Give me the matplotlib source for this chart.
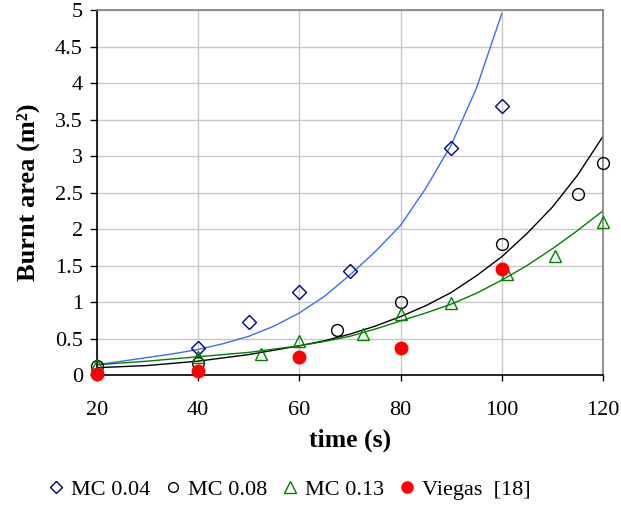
import matplotlib
matplotlib.use("Agg")
import matplotlib.pyplot as plt
from matplotlib.lines import Line2D

plt.rcParams['font.family'] = ['Liberation Serif', 'DejaVu Serif']

# measured points
t_mc004 = [40, 50, 60, 70, 90, 100]
a_mc004 = [0.37, 0.73, 1.14, 1.42, 3.11, 3.68]

t_mc008 = [20, 40, 67.5, 80, 100, 115, 120]
a_mc008 = [0.12, 0.17, 0.61, 1.00, 1.79, 2.48, 2.90]

t_mc013 = [20, 40, 52.5, 60, 72.5, 80, 90, 101, 110.5, 120]
a_mc013 = [0.14, 0.24, 0.29, 0.47, 0.56, 0.84, 0.99, 1.39, 1.63, 2.10]

t_viegas = [20, 40, 60, 80, 100]
a_viegas = [0.02, 0.06, 0.25, 0.37, 1.45]

# fitted curves
t_fit004 = [20, 25, 30, 35, 40, 45, 50, 55, 60, 65, 70, 75, 80, 85, 90, 95, 100]
a_fit004 = [0.14, 0.19, 0.24, 0.29, 0.35, 0.43, 0.53, 0.67, 0.85, 1.08, 1.37, 1.69, 2.05, 2.56, 3.15, 3.93, 4.95]

t_fit008 = [20, 30, 40, 50, 60, 65, 70, 75, 80, 85, 90, 95, 100, 105, 110, 115, 120]
a_fit008 = [0.10, 0.13, 0.19, 0.28, 0.40, 0.47, 0.56, 0.67, 0.80, 0.95, 1.13, 1.36, 1.62, 1.94, 2.30, 2.74, 3.27]

t_fit013 = [20, 30, 40, 50, 60, 65, 70, 75, 80, 85, 90, 95, 100, 105, 110, 115, 120]
a_fit013 = [0.14, 0.19, 0.25, 0.31, 0.40, 0.46, 0.53, 0.63, 0.74, 0.85, 0.97, 1.12, 1.30, 1.50, 1.73, 1.98, 2.25]

x_ticks = [20, 40, 60, 80, 100, 120]
y_ticks = [0, 0.5, 1, 1.5, 2, 2.5, 3, 3.5, 4, 4.5, 5]

fig = plt.figure(figsize=(6.21, 5.05), dpi=100)
ax = fig.add_axes([0.156, 0.2574, 0.815, 0.7228])

ax.plot(t_fit004, a_fit004, color='#3d6bff', lw=1.0, zorder=2)
ax.plot(t_fit008, a_fit008, color='black', lw=1.0, zorder=2)
ax.plot(t_fit013, a_fit013, color='#008000', lw=1.0, zorder=2)

ax.plot(t_mc004, a_mc004, 'D', ms=7, mfc='none', mec='#000080', mew=1.0, zorder=3, clip_on=False)
ax.plot(t_mc008, a_mc008, 'o', ms=8.5, mfc='none', mec='black', mew=1.0, zorder=3, clip_on=False)
ax.plot(t_mc013, a_mc013, '^', ms=9, mfc='none', mec='#008000', mew=1.0, zorder=3, clip_on=False)
ax.plot(t_viegas, a_viegas, 'o', ms=9, color='#ff0000', zorder=4, clip_on=False)

ax.set_xlim(20, 120)
ax.set_ylim(0, 5)
ax.set_xticks(x_ticks)
ax.set_yticks(y_ticks)
ax.set_yticklabels([f"{v:g}" for v in y_ticks])
ax.grid(True, color='#c8c8c8', lw=1.0)
ax.set_axisbelow(True)

for s in ['top', 'right']:
    ax.spines[s].set_color('#808080')
    ax.spines[s].set_linewidth(1.2)
for s in ['left', 'bottom']:
    ax.spines[s].set_color('black')
    ax.spines[s].set_linewidth(1.2)

ax.tick_params(axis='x', direction='out', length=4, width=1, pad=15, labelsize=16)
ax.tick_params(axis='y', direction='out', length=5, width=1, pad=5, labelsize=16)

ax.set_xlabel('time (s)', fontsize=18.5, fontweight='bold', labelpad=6)
ax.set_ylabel('Burnt area (m²)', fontsize=19, fontweight='bold', labelpad=11)

handles = [
    Line2D([], [], ls='none', marker='D', ms=6, mfc='none', mec='#000080'),
    Line2D([], [], ls='none', marker='o', ms=7, mfc='none', mec='black'),
    Line2D([], [], ls='none', marker='^', ms=8, mfc='none', mec='#008000'),
    Line2D([], [], ls='none', marker='o', ms=8, color='#ff0000'),
]
labels = ['MC 0.04', 'MC 0.08', 'MC 0.13', 'Viegas  [18]']
fig.legend(handles, labels, loc='lower center', bbox_to_anchor=(0.465, -0.03),
           ncol=4, frameon=False, fontsize=16, handlelength=0.8,
           handletextpad=0.3, columnspacing=0.6)

fig.savefig('out.png', dpi=100)
